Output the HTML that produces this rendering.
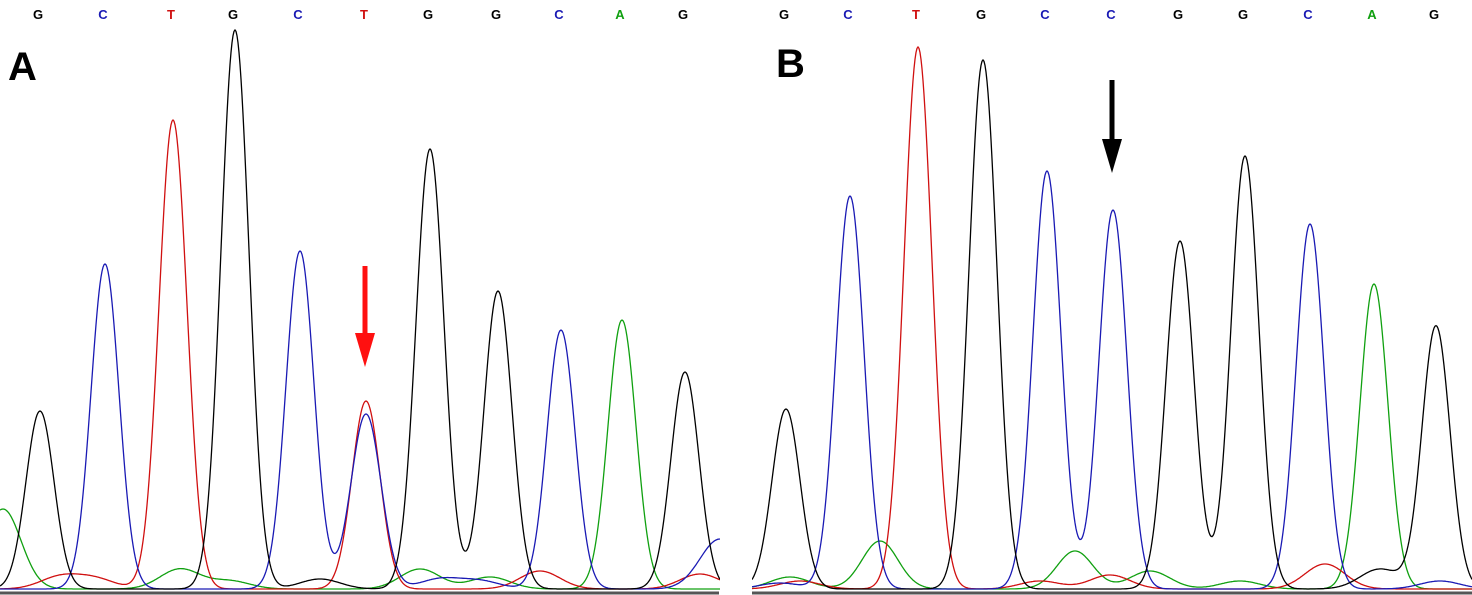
<!DOCTYPE html>
<html><head><meta charset="utf-8"><style>
html,body{margin:0;padding:0;background:#fff;}
svg{display:block;}
</style></head><body>
<svg id="chart" width="1472" height="595" viewBox="0 0 1472 595">
<defs>
<clipPath id="clipA"><rect x="0" y="0" width="720" height="595"/></clipPath>
<clipPath id="clipB"><rect x="752" y="0" width="720" height="595"/></clipPath>
</defs>
<rect x="0" y="0" width="1472" height="595" fill="#fff"/>
<g id="panelA" clip-path="url(#clipA)"></g>
<g id="panelB" clip-path="url(#clipB)"></g>
<line x1="0" y1="593" x2="719" y2="593" stroke="#555" stroke-width="3"/>
<line x1="752" y1="593" x2="1472" y2="593" stroke="#555" stroke-width="3"/>
<text x="8" y="80" font-family="Liberation Sans, sans-serif" font-weight="bold" font-size="40" fill="#000">A</text>
<text x="776" y="77" font-family="Liberation Sans, sans-serif" font-weight="bold" font-size="40" fill="#000">B</text>
<g id="arrows"></g>
</svg>
<script>
// Panel A base calls & peaks
const basesA = ["G","C","T","G","C","T","G","G","C","A","G"];
const posA = [40,105,173,235,300,366,430,498,561,622,685];
const heightsA = [178,325,469,559,338,188,440,298,259,269,217];
// Panel B base calls & peaks
const basesB = ["G","C","T","G","C","C","G","G","C","A","G"];
const posB = [786,850,918,983,1047,1113,1180,1245,1310,1374,1436];
const heightsB = [180,393,542,529,418,379,348,433,365,305,263];
// extra peaks: [channel, position, height, width]
const extraA = [["C",366,175,15],["A",180,20,20],["A",230,8,20],["A",420,20,20],["A",490,12,20],["A",3,80,18],["T",60,12,20],["T",95,10,20],["T",540,18,20],["T",700,15,20],["C",440,10,20],["C",480,8,20],["G",320,10,20],["C",720,50,20]];
const extraB = [["A",880,48,18],["A",1075,38,18],["A",1150,18,20],["A",790,12,20],["A",1240,8,20],["T",1110,14,20],["T",1325,25,20],["T",1040,8,20],["T",800,8,20],["G",1380,20,20],["C",1440,8,20],["C",780,6,20]];
const colors = {G:"#000",C:"#1a1ab4",T:"#d01010",A:"#10a010"};
const baseY = 590, sigma = 14;
const yOf = v => baseY - v;

function drawPanel(gid, x0, x1, bases, pos, heights, extra, label) {
  const g = document.getElementById(gid);
  const ns = "http://www.w3.org/2000/svg";
  const peaks = {G:[],C:[],T:[],A:[]};
  bases.forEach((b,i)=>peaks[b].push([pos[i],heights[i],sigma]));
  extra.forEach(e=>peaks[e[0]].push([e[1],e[2],e[3]]));
  ["A","T","C","G"].forEach(ch=>{
    let d="";
    for(let x=x0;x<=x1;x+=1){
      let v=1;
      peaks[ch].forEach(p=>{v+=p[1]*Math.exp(-((x-p[0])**2)/(2*p[2]*p[2]));});
      d+=(x===x0?"M":"L")+x+","+yOf(v).toFixed(1);
    }
    const path=document.createElementNS(ns,"path");
    path.setAttribute("d",d);path.setAttribute("fill","none");
    path.setAttribute("stroke",colors[ch]);path.setAttribute("stroke-width","1.3");
    
    
    g.appendChild(path);
  });
  bases.forEach((b,i)=>{
    const t=document.createElementNS(ns,"text");
    t.setAttribute("x",pos[i]-2);t.setAttribute("y",19);
    t.setAttribute("text-anchor","middle");t.setAttribute("font-family","Liberation Sans, sans-serif");
    t.setAttribute("font-weight","bold");t.setAttribute("font-size","13");
    t.setAttribute("fill",colors[b]);t.textContent=b;
    
    
    document.getElementById("chart").appendChild(t);
  });
}
drawPanel("panelA",0,720,basesA,posA,heightsA,extraA,"a");
drawPanel("panelB",752,1472,basesB,posB,heightsB,extraB,"b");

const ns="http://www.w3.org/2000/svg";
const arr=document.getElementById("arrows");
function arrow(x,y1,y2,color,name){
  const l=document.createElementNS(ns,"line");
  l.setAttribute("x1",x);l.setAttribute("x2",x);l.setAttribute("y1",y1);l.setAttribute("y2",y2-20);
  l.setAttribute("stroke",color);l.setAttribute("stroke-width","5");
  
  
  arr.appendChild(l);
  const p=document.createElementNS(ns,"polygon");
  p.setAttribute("points",(x-10)+","+(y2-34)+" "+(x+10)+","+(y2-34)+" "+x+","+y2);
  p.setAttribute("fill",color);
  
  
  arr.appendChild(p);
}
arrow(365,266,367,"#ff1010","mutation-arrow-a");
arrow(1112,80,173,"#000","reference-arrow-b");
</script>
</body></html>
